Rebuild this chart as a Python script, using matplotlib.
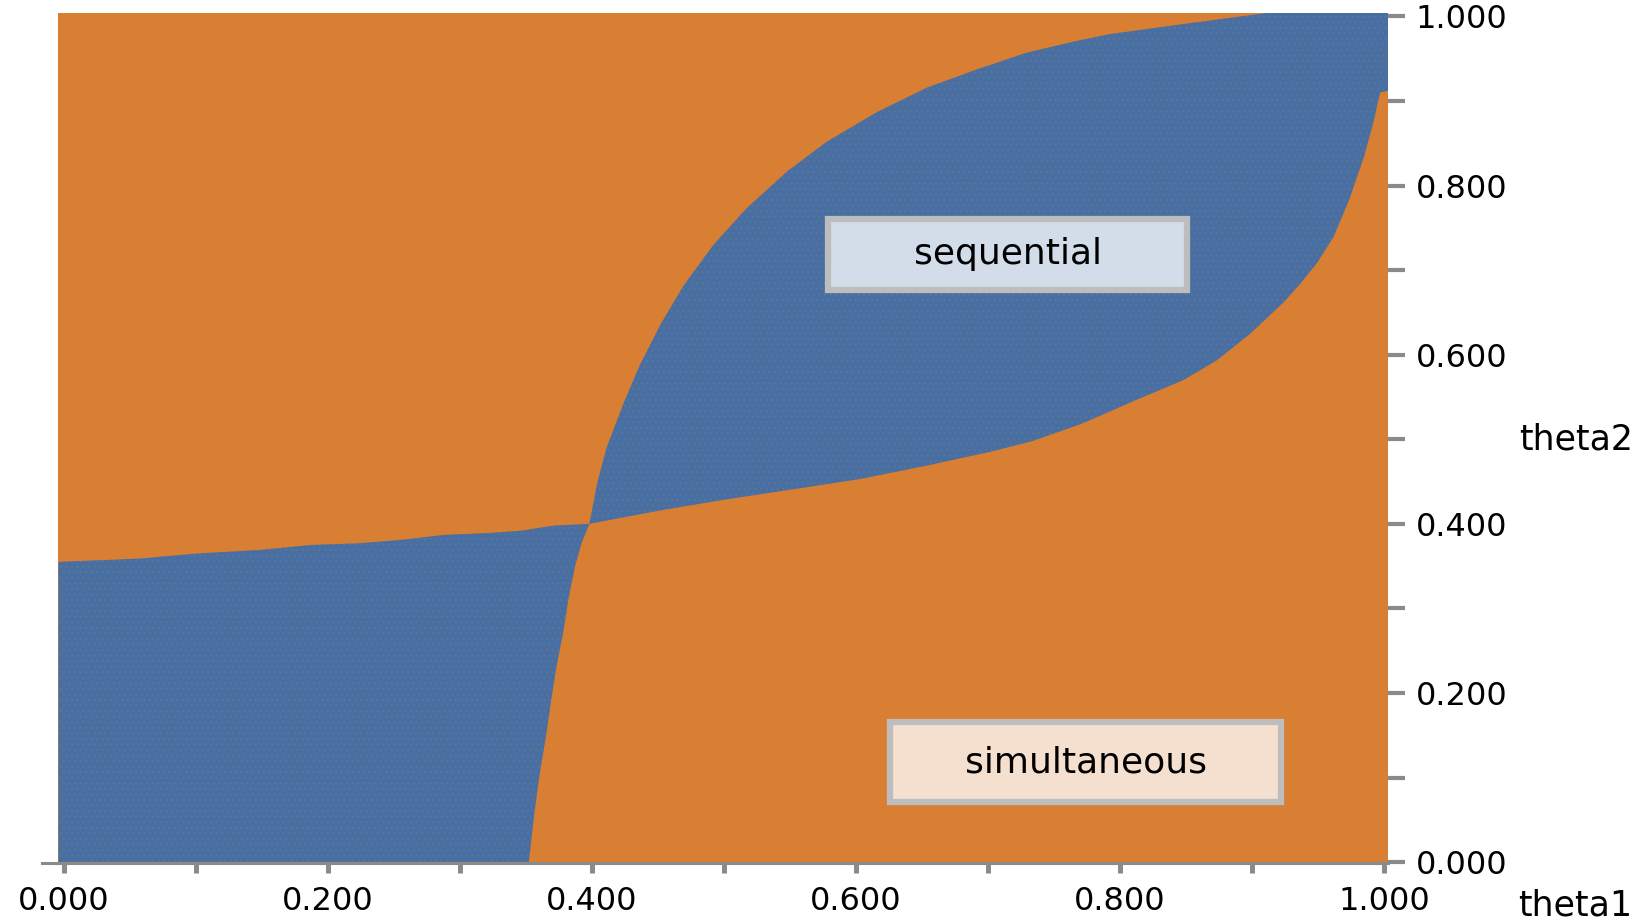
import numpy as np
import matplotlib.pyplot as plt
from matplotlib.patches import Polygon, Rectangle
from matplotlib.lines import Line2D

# boundary of the lower-left "sequential" block (theta1, theta2)
ll_top_x = [0.0, 0.058, 0.101, 0.147, 0.187, 0.223, 0.255, 0.288, 0.320, 0.347, 0.371, 0.398]
ll_top_y = [0.355, 0.359, 0.365, 0.369, 0.375, 0.377, 0.381, 0.387, 0.389, 0.392, 0.398, 0.400]
ll_edge_x = [0.398, 0.392, 0.387, 0.382, 0.378, 0.373, 0.369, 0.365, 0.360, 0.356, 0.352]
ll_edge_y = [0.400, 0.377, 0.349, 0.310, 0.270, 0.231, 0.191, 0.148, 0.101, 0.054, 0.0]

# upper "sequential" lens: upper and lower boundary
lens_top_x = [0.398, 0.404, 0.411, 0.424, 0.436, 0.452, 0.469, 0.492, 0.517, 0.548,
              0.578, 0.616, 0.654, 0.691, 0.729, 0.767, 0.792, 0.848, 0.911, 1.0]
lens_top_y = [0.400, 0.449, 0.490, 0.543, 0.587, 0.636, 0.681, 0.730, 0.773, 0.817,
              0.852, 0.887, 0.916, 0.937, 0.957, 0.971, 0.979, 0.991, 1.0, 1.0]
lens_bot_x = [0.398, 0.452, 0.502, 0.553, 0.603, 0.654, 0.704, 0.734, 0.772, 0.810, 0.848,
              0.873, 0.898, 0.924, 0.936, 0.949, 0.962, 0.974, 0.985, 0.992, 0.997, 1.0]
lens_bot_y = [0.400, 0.416, 0.429, 0.441, 0.453, 0.469, 0.486, 0.498, 0.519, 0.545, 0.570,
              0.593, 0.624, 0.662, 0.683, 0.708, 0.740, 0.785, 0.835, 0.875, 0.910, 0.912]

x_ticks = np.arange(0, 11) / 10
x_labels = ['0.000', '', '0.200', '', '0.400', '', '0.600', '', '0.800', '', '1.000']
y_ticks = x_ticks
y_labels = x_labels

ORANGE = '#d87f34'
BLUE = '#476fa3'
GREY = '#8a8a8a'

XLIM = (-0.0042, 1.003)
YLIM = (-0.001, 1.004)

plt.rcParams['hatch.color'] = '#69758a'
plt.rcParams['hatch.linewidth'] = 0.6


def snap(xs, ys):
    # push points sitting on the unit square border out to the axes edge
    xs = np.asarray(xs, dtype=float)
    ys = np.asarray(ys, dtype=float)
    xs = np.where(xs <= 0, XLIM[0], np.where(xs >= 1, XLIM[1], xs))
    ys = np.where(ys <= 0, YLIM[0], np.where(ys >= 1, YLIM[1], ys))
    return np.column_stack([xs, ys])


fig = plt.figure(figsize=(16.52, 9.23), dpi=100)
ax = fig.add_axes([0.0354, 0.0650, 0.8048, 0.9209])
ax.set_facecolor(ORANGE)
ax.set_xlim(*XLIM)
ax.set_ylim(*YLIM)

# lower-left block: corner (0,0) -> up the left edge -> top boundary -> down the right boundary
ll = snap([0.0] + ll_top_x + ll_edge_x, [0.0] + ll_top_y + ll_edge_y)
ax.add_patch(Polygon(ll, closed=True, facecolor=BLUE, linewidth=0, hatch='...'))

# lens: top boundary out to (1,1), then back along the lower boundary
lens = snap(lens_top_x + lens_bot_x[::-1], lens_top_y + lens_bot_y[::-1])
ax.add_patch(Polygon(lens, closed=True, facecolor=BLUE, linewidth=0, hatch='...'))

for side in ['top', 'left', 'right']:
    ax.spines[side].set_visible(False)
ax.spines['bottom'].set_color(GREY)
ax.spines['bottom'].set_linewidth(2.2)
ax.add_line(Line2D([-0.0124, 0], [0, 0], transform=ax.transAxes, color=GREY,
                   linewidth=2.2, clip_on=False))

ax.set_xticks(x_ticks)
ax.set_xticklabels(x_labels)
ax.yaxis.tick_right()
ax.set_yticks(y_ticks)
ax.set_yticklabels(y_labels)
ax.tick_params(axis='x', direction='out', length=7.5, width=3.6, color=GREY,
               pad=9, labelsize=23)
ax.tick_params(axis='y', direction='out', length=12, width=3, color=GREY,
               pad=8, labelsize=23)

fig.text(1575 / 1652, 1 - 906 / 923, 'theta1', fontsize=25, ha='center', va='center')
fig.text(1576 / 1652, 1 - 440 / 923, 'theta2', fontsize=25, ha='center', va='center')

# region labels
ax.add_patch(Rectangle((0.579, 0.677), 0.272, 0.084, facecolor='#d3dde9',
                       edgecolor='#bdbdbd', linewidth=4.5, zorder=3))
ax.text(0.715, 0.719, 'sequential', fontsize=26, ha='center', va='center', zorder=4)
ax.add_patch(Rectangle((0.626, 0.071), 0.296, 0.095, facecolor='#f5e0d0',
                       edgecolor='#bdbdbd', linewidth=4.5, zorder=3))
ax.text(0.774, 0.118, 'simultaneous', fontsize=26, ha='center', va='center', zorder=4)

fig.savefig('out.png', dpi=100)
